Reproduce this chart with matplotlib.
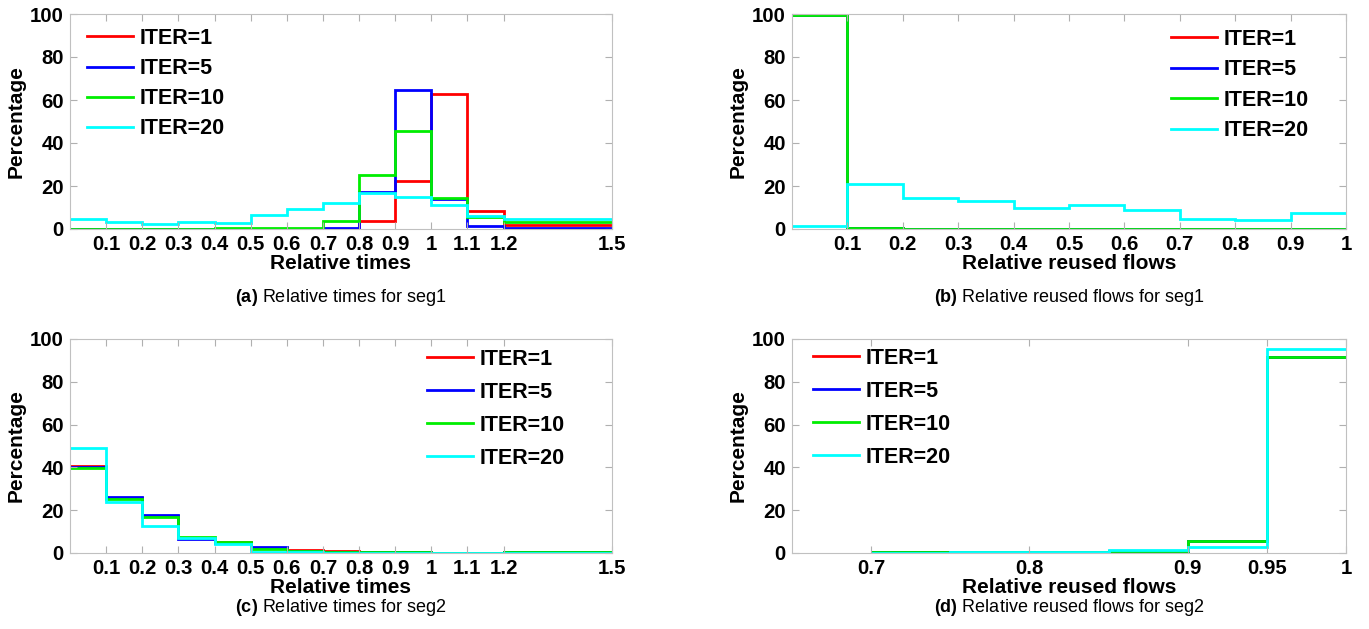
import numpy as np
import matplotlib.pyplot as plt

plt.rcParams['font.family'] = ['Liberation Sans', 'DejaVu Sans']
plt.rcParams['mathtext.fontset'] = 'custom'
plt.rcParams['mathtext.rm'] = 'Liberation Sans'
plt.rcParams['mathtext.bf'] = 'Liberation Sans:bold'

labels = ['ITER=1', 'ITER=5', 'ITER=10', 'ITER=20']
colors = ['#ff0000', '#0000ff', '#00ee00', '#00ffff']

# (a) relative times, seg1
edges_a = [0, 0.1, 0.2, 0.3, 0.4, 0.5, 0.6, 0.7, 0.8, 0.9, 1.0, 1.1, 1.2, 1.5]
a_iter1 = [0, 0, 0, 0, 0, 0, 0, 0.2, 3.6, 22.2, 62.9, 8.4, 2.0]
a_iter5 = [0, 0, 0, 0, 0, 0, 0, 0.3, 17.0, 64.6, 14.0, 1.5, 0.6]
a_iter10 = [0, 0, 0, 0, 0.3, 0.3, 0.3, 3.7, 25.2, 45.5, 14.6, 5.6, 3.3]
a_iter20 = [4.8, 3.4, 2.5, 3.4, 3.0, 6.7, 9.2, 12.0, 16.9, 14.9, 11.0, 5.9, 4.8]

# (b) relative reused flows, seg1
edges_b = [0, 0.1, 0.2, 0.3, 0.4, 0.5, 0.6, 0.7, 0.8, 0.9, 1.0]
b_iter1 = [99.7, 0.3, 0, 0, 0, 0, 0, 0, 0, 0]
b_iter5 = [99.7, 0.3, 0, 0, 0, 0, 0, 0, 0, 0]
b_iter10 = [99.7, 0.3, 0, 0, 0, 0, 0, 0, 0, 0]
b_iter20 = [1.4, 20.8, 14.6, 13.2, 9.6, 11.2, 8.7, 4.5, 4.2, 7.5]

# (c) relative times, seg2
c_iter1 = [40.6, 25.5, 17.4, 7.2, 5.0, 2.4, 1.4, 0.8, 0.7, 0.4, 0.2, 0.2, 0.3]
c_iter5 = [40.2, 26.0, 17.8, 6.5, 4.6, 2.8, 1.0, 0.6, 0.4, 0.3, 0.2, 0.2, 0.3]
c_iter10 = [39.8, 25.2, 17.0, 7.7, 5.1, 2.0, 1.0, 0.5, 0.4, 0.3, 0.2, 0.2, 0.3]
c_iter20 = [48.9, 24.0, 12.8, 6.8, 4.0, 0.5, 0.3, 0.2, 0.2, 0.1, 0.1, 0.1, 0.2]

# (d) relative reused flows, seg2
edges_d = [0.7, 0.75, 0.8, 0.85, 0.9, 0.95, 1.0]
d_iter1 = [0.4, 0.3, 0.6, 1.0, 5.5, 91.7]
d_iter5 = [0.4, 0.3, 0.6, 1.0, 5.5, 91.7]
d_iter10 = [0.5, 0.3, 0.6, 1.0, 5.5, 91.7]
d_iter20 = [0.2, 0.4, 0.4, 1.2, 2.8, 95.1]

ticks_times = [0.1, 0.2, 0.3, 0.4, 0.5, 0.6, 0.7, 0.8, 0.9, 1, 1.1, 1.2, 1.5]
ticklabels_times = ['0.1', '0.2', '0.3', '0.4', '0.5', '0.6', '0.7', '0.8', '0.9', '1', '1.1', '1.2', '1.5']
ticks_flows = [0.1, 0.2, 0.3, 0.4, 0.5, 0.6, 0.7, 0.8, 0.9, 1]
ticklabels_flows = ['0.1', '0.2', '0.3', '0.4', '0.5', '0.6', '0.7', '0.8', '0.9', '1']
ticks_d = [0.7, 0.8, 0.9, 0.95, 1]
ticklabels_d = ['0.7', '0.8', '0.9', '0.95', '1']

fig = plt.figure(figsize=(13.69, 6.29), dpi=100)

W, H = 1369.0, 629.0
def box(l, t, r, b):
    return [l / W, 1 - b / H, (r - l) / W, (b - t) / H]

panels = [
    dict(pos=box(70, 14, 612, 229), edges=edges_a, series=[a_iter1, a_iter5, a_iter10, a_iter20],
         xlim=(0, 1.5), ticks=ticks_times, tl=ticklabels_times, xlabel='Relative times',
         cap=r'$\bf{(a)}$ Relative times for seg1', leg=(87, 28), ls=0.42, capy=297),
    dict(pos=box(792, 14, 1346, 229), edges=edges_b, series=[b_iter1, b_iter5, b_iter10, b_iter20],
         xlim=(0, 1.0), ticks=ticks_flows, tl=ticklabels_flows, xlabel='Relative reused flows',
         cap=r'$\bf{(b)}$ Relative reused flows for seg1', leg=(1171, 29), ls=0.44, capy=297),
    dict(pos=box(70, 339, 612, 553), edges=edges_a, series=[c_iter1, c_iter5, c_iter10, c_iter20],
         xlim=(0, 1.5), ticks=ticks_times, tl=ticklabels_times, xlabel='Relative times',
         cap=r'$\bf{(c)}$ Relative times for seg2', leg=(427, 349), ls=0.55, capy=608),
    dict(pos=box(792, 339, 1346, 553), edges=edges_d, series=[d_iter1, d_iter5, d_iter10, d_iter20],
         xlim=(0.65, 1.0), ticks=ticks_d, tl=ticklabels_d, xlabel='Relative reused flows',
         cap=r'$\bf{(d)}$ Relative reused flows for seg2', leg=(813, 348), ls=0.55, capy=608),
]

for p in panels:
    ax = fig.add_axes(p['pos'])
    for vals, lab, col in zip(p['series'], labels, colors):
        ax.stairs(vals, p['edges'], baseline=None, color=col, linewidth=2.0, label=lab)
    ax.set_xlim(*p['xlim'])
    ax.set_ylim(0, 100)
    ax.set_xticks(p['ticks'])
    ax.set_xticklabels(p['tl'])
    ax.set_yticks([0, 20, 40, 60, 80, 100])
    ax.tick_params(direction='in', top=True, right=True, color='#b0b0b0', length=5,
                   labelsize=14.7, pad=4.5)
    for t in ax.get_xticklabels() + ax.get_yticklabels():
        t.set_fontweight('bold')
    for s in ax.spines.values():
        s.set_color('#c0c0c0')
    ax.set_xlabel(p['xlabel'], fontsize=15, fontweight='bold', labelpad=0)
    ax.set_ylabel('Percentage', fontsize=15, fontweight='bold', labelpad=3)
    lx, ly = p['leg']
    leg = ax.legend(loc='upper left', bbox_to_anchor=(lx / W, 1 - ly / H),
                    bbox_transform=fig.transFigure, frameon=False, fontsize=15.5,
                    handlelength=2.15, handletextpad=0.28, labelspacing=p['ls'],
                    borderaxespad=0, borderpad=0)
    for t in leg.get_texts():
        t.set_fontweight('bold')
    cx = (p['pos'][0] + p['pos'][2] / 2)
    fig.text(cx, 1 - p['capy'] / H, p['cap'], ha='center', va='center', fontsize=13)

fig.savefig('out.png', dpi=100)
